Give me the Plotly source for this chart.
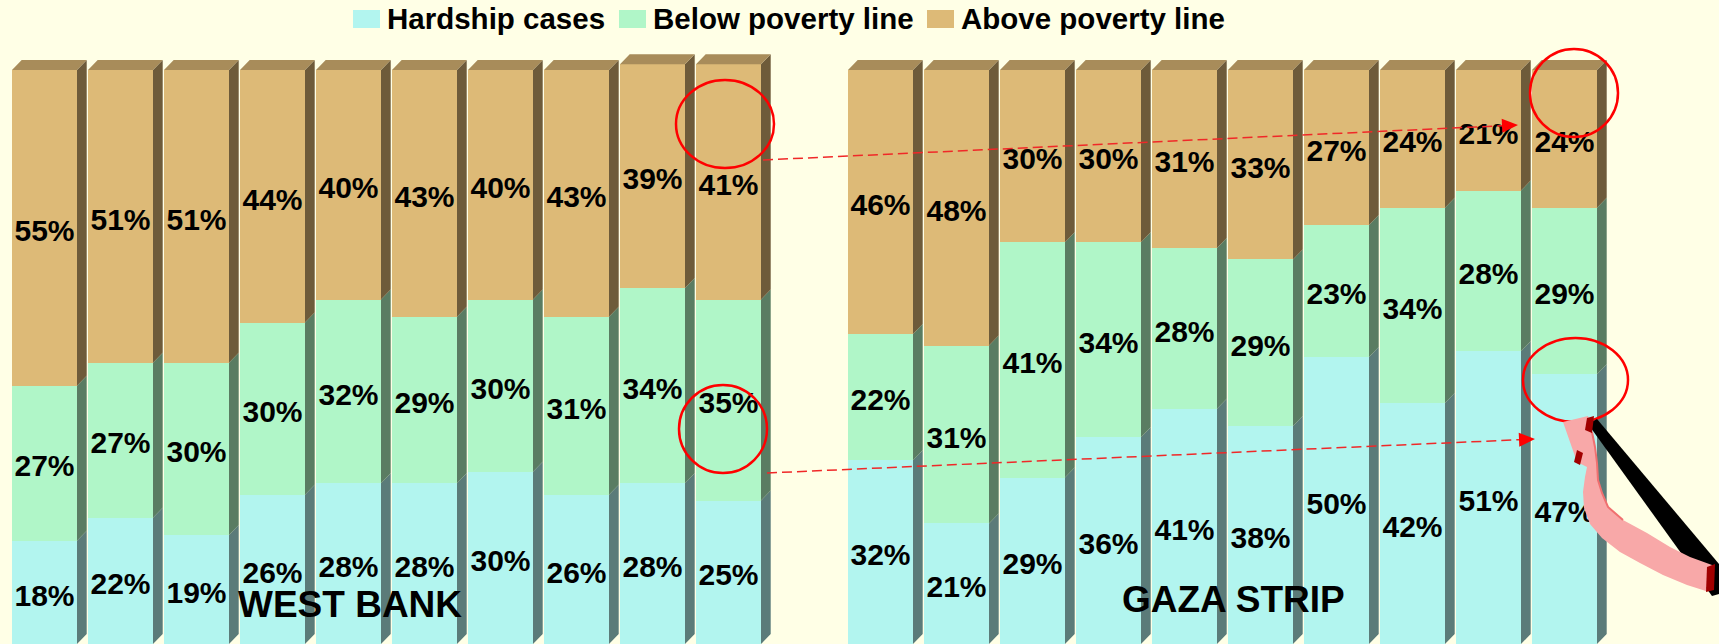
import math
import plotly.graph_objects as go

# ---- data ----
series = ['Hardship cases', 'Below poverty line', 'Above poverty line']
wb_hard = [18, 22, 19, 26, 28, 28, 30, 26, 28, 25]
wb_below = [27, 27, 30, 30, 32, 29, 30, 31, 34, 35]
wb_above = [55, 51, 51, 44, 40, 43, 40, 43, 39, 41]
gz_hard = [32, 21, 29, 36, 41, 38, 50, 42, 51, 47]
gz_below = [22, 31, 41, 34, 28, 29, 23, 34, 28, 29]
gz_above = [46, 48, 30, 30, 31, 33, 27, 24, 21, 24]
groups = ['WEST BANK', 'GAZA STRIP']

W, H = 1719, 644
BG = '#FFFFE6'
front = ['#B2F5EF', '#B0F6C8', '#DDBA77']
side = ['#5B7B79', '#5A7C62', '#6E5B3A']
top_col = '#A88C5A'

# bar positions: two groups of ten with one empty slot between
xpos = list(range(10)) + list(range(11, 21))
values = [wb_hard + gz_hard, wb_below + gz_below, wb_above + gz_above]

bw = 65 / 76       # front face width (category units)
dx = 9.7 / 76      # depth offset x
dy = 10 / 5.74     # depth offset y


def px(x):
    return x / W


def py(y):
    return 1 - y / H


fig = go.Figure()

# front faces
for k in range(3):
    fig.add_trace(go.Bar(x=xpos, y=values[k], name=series[k], width=bw,
                         marker=dict(color=front[k], line=dict(width=0)),
                         hoverinfo='skip'))

# side faces + top faces, built from the stacked values
side_x = [[], [], []]
side_y = [[], [], []]
top_x, top_y = [], []
lab_x, lab_y, lab_t = [], [], []
for j, x in enumerate(xpos):
    xr = x + bw / 2
    xl = x - bw / 2
    y0 = 0
    for k in range(3):
        y1 = y0 + values[k][j]
        side_x[k] += [xr, xr + dx, xr + dx, xr, xr, None]
        side_y[k] += [y0, y0 + dy, y1 + dy, y1, y0, None]
        lab_x.append(x)
        lab_y.append((y0 + y1) / 2 - 1.0)
        lab_t.append('%d%%' % values[k][j])
        y0 = y1
    top_x += [xl, xr, xr + dx, xl + dx, xl, None]
    top_y += [y0, y0, y0 + dy, y0 + dy, y0, None]

for k in range(3):
    fig.add_trace(go.Scatter(x=side_x[k], y=side_y[k], mode='lines', fill='toself',
                             fillcolor=side[k], line=dict(width=0), hoverinfo='skip',
                             showlegend=False))
fig.add_trace(go.Scatter(x=top_x, y=top_y, mode='lines', fill='toself',
                         fillcolor=top_col, line=dict(width=0), hoverinfo='skip',
                         showlegend=False))

# value labels
fig.add_trace(go.Scatter(x=lab_x, y=lab_y, mode='text', text=lab_t,
                         textfont=dict(family='Liberation Sans', size=30, color='black', weight=700),
                         hoverinfo='skip', showlegend=False))

shapes = []
annotations = []

# legend (drawn by hand to get the large swatches)
leg_x = [353, 619, 927]
for k in range(3):
    shapes.append(dict(type='rect', xref='paper', yref='paper',
                       x0=px(leg_x[k]), x1=px(leg_x[k] + 27), y0=py(28), y1=py(10),
                       fillcolor=front[k], line=dict(width=0)))
    annotations.append(dict(text=series[k], xref='paper', yref='paper',
                            x=px(leg_x[k] + 32), y=py(19), xanchor='left', yanchor='middle',
                            showarrow=False,
                            font=dict(family='Liberation Sans', size=29.5, color='black', weight=700)))

# group names
for name, cx, cy in zip(groups, [350, 1233], [604, 599]):
    annotations.append(dict(text=name, xref='paper', yref='paper', x=px(cx), y=py(cy),
                            xanchor='center', yanchor='middle', showarrow=False,
                            font=dict(family='Liberation Sans', size=37, color='black', weight=700)))

# red ellipses
for x0, x1, y0, y1 in [(676, 774, 80, 168), (679, 767, 385, 473),
                       (1530, 1618, 49, 137), (1523, 1628, 338, 422)]:
    shapes.append(dict(type='circle', xref='paper', yref='paper', layer='above',
                       x0=px(x0), x1=px(x1), y0=py(y1), y1=py(y0),
                       line=dict(color='#FF0000', width=2.5)))

# dashed arrows
for (sx, sy), (tx, ty) in [((763, 160), (1518, 125)), ((767, 473), (1535, 439))]:
    L = math.hypot(tx - sx, ty - sy)
    ux, uy = (tx - sx) / L, (ty - sy) / L
    bx, by = tx - 16 * ux, ty - 16 * uy
    shapes.append(dict(type='line', xref='paper', yref='paper', layer='above',
                       x0=px(sx), y0=py(sy), x1=px(bx), y1=py(by),
                       line=dict(color='#F02828', width=1.5, dash='10px,5px')))
    pts = [(tx, ty), (bx - 7 * uy, by + 7 * ux), (bx + 7 * uy, by - 7 * ux)]
    path = 'M ' + ' L '.join('%f,%f' % (px(a), py(b)) for a, b in pts) + ' Z'
    shapes.append(dict(type='path', xref='paper', yref='paper', layer='above', path=path,
                       fillcolor='#FF0000', line=dict(width=0)))


def poly(pts, color, closed=True, lw=0):
    path = 'M ' + ' L '.join('%f,%f' % (px(a), py(b)) for a, b in pts) + (' Z' if closed else '')
    if closed:
        return dict(type='path', xref='paper', yref='paper', layer='above', path=path,
                    fillcolor=color, line=dict(width=0))
    return dict(type='path', xref='paper', yref='paper', layer='above', path=path,
                line=dict(color=color, width=lw))


# pink curved arrow with its shadow
shapes.append(poly([(1588, 424), (1597, 419), (1719, 564), (1719, 594), (1712, 596)], 'black'))
shapes.append(poly([(1563, 422), (1588, 416), (1592, 430), (1595, 447), (1597, 463), (1598, 480),
                    (1602, 493), (1608, 507), (1623, 520), (1647, 533), (1670, 547), (1690, 557),
                    (1712, 565), (1706, 591), (1687, 585), (1663, 575), (1640, 563), (1620, 552),
                    (1602, 538), (1590, 524), (1584, 508), (1583, 492), (1585, 477), (1587, 467),
                    (1577, 462)], '#F8A8A8'))
shapes.append(poly([(1592, 432), (1595, 447), (1597, 463), (1598, 480), (1602, 493), (1608, 507),
                    (1623, 520)], '#F07070', closed=False, lw=2))
shapes.append(poly([(1587, 418), (1594, 416), (1592, 433), (1585, 430)], '#A00000'))
shapes.append(poly([(1577, 450), (1583, 453), (1580, 465), (1574, 462)], '#A00000'))
shapes.append(poly([(1707, 567), (1715, 564), (1714, 590), (1706, 592)], '#A00000'))

fig.update_layout(
    width=W, height=H,
    margin=dict(l=0, r=0, t=0, b=0),
    paper_bgcolor=BG, plot_bgcolor=BG,
    barmode='stack', bargap=0,
    showlegend=False,
    xaxis=dict(visible=False, range=[-44.5 / 76, (W - 44.5) / 76], fixedrange=True),
    yaxis=dict(visible=False, range=[0, H / 5.74], fixedrange=True),
    shapes=shapes,
    annotations=annotations,
)

# page body has a default margin; drop it so the figure fills the window
fig.write_html('out.html', config={'displayModeBar': False},
               post_script="document.body.style.margin='0';")
